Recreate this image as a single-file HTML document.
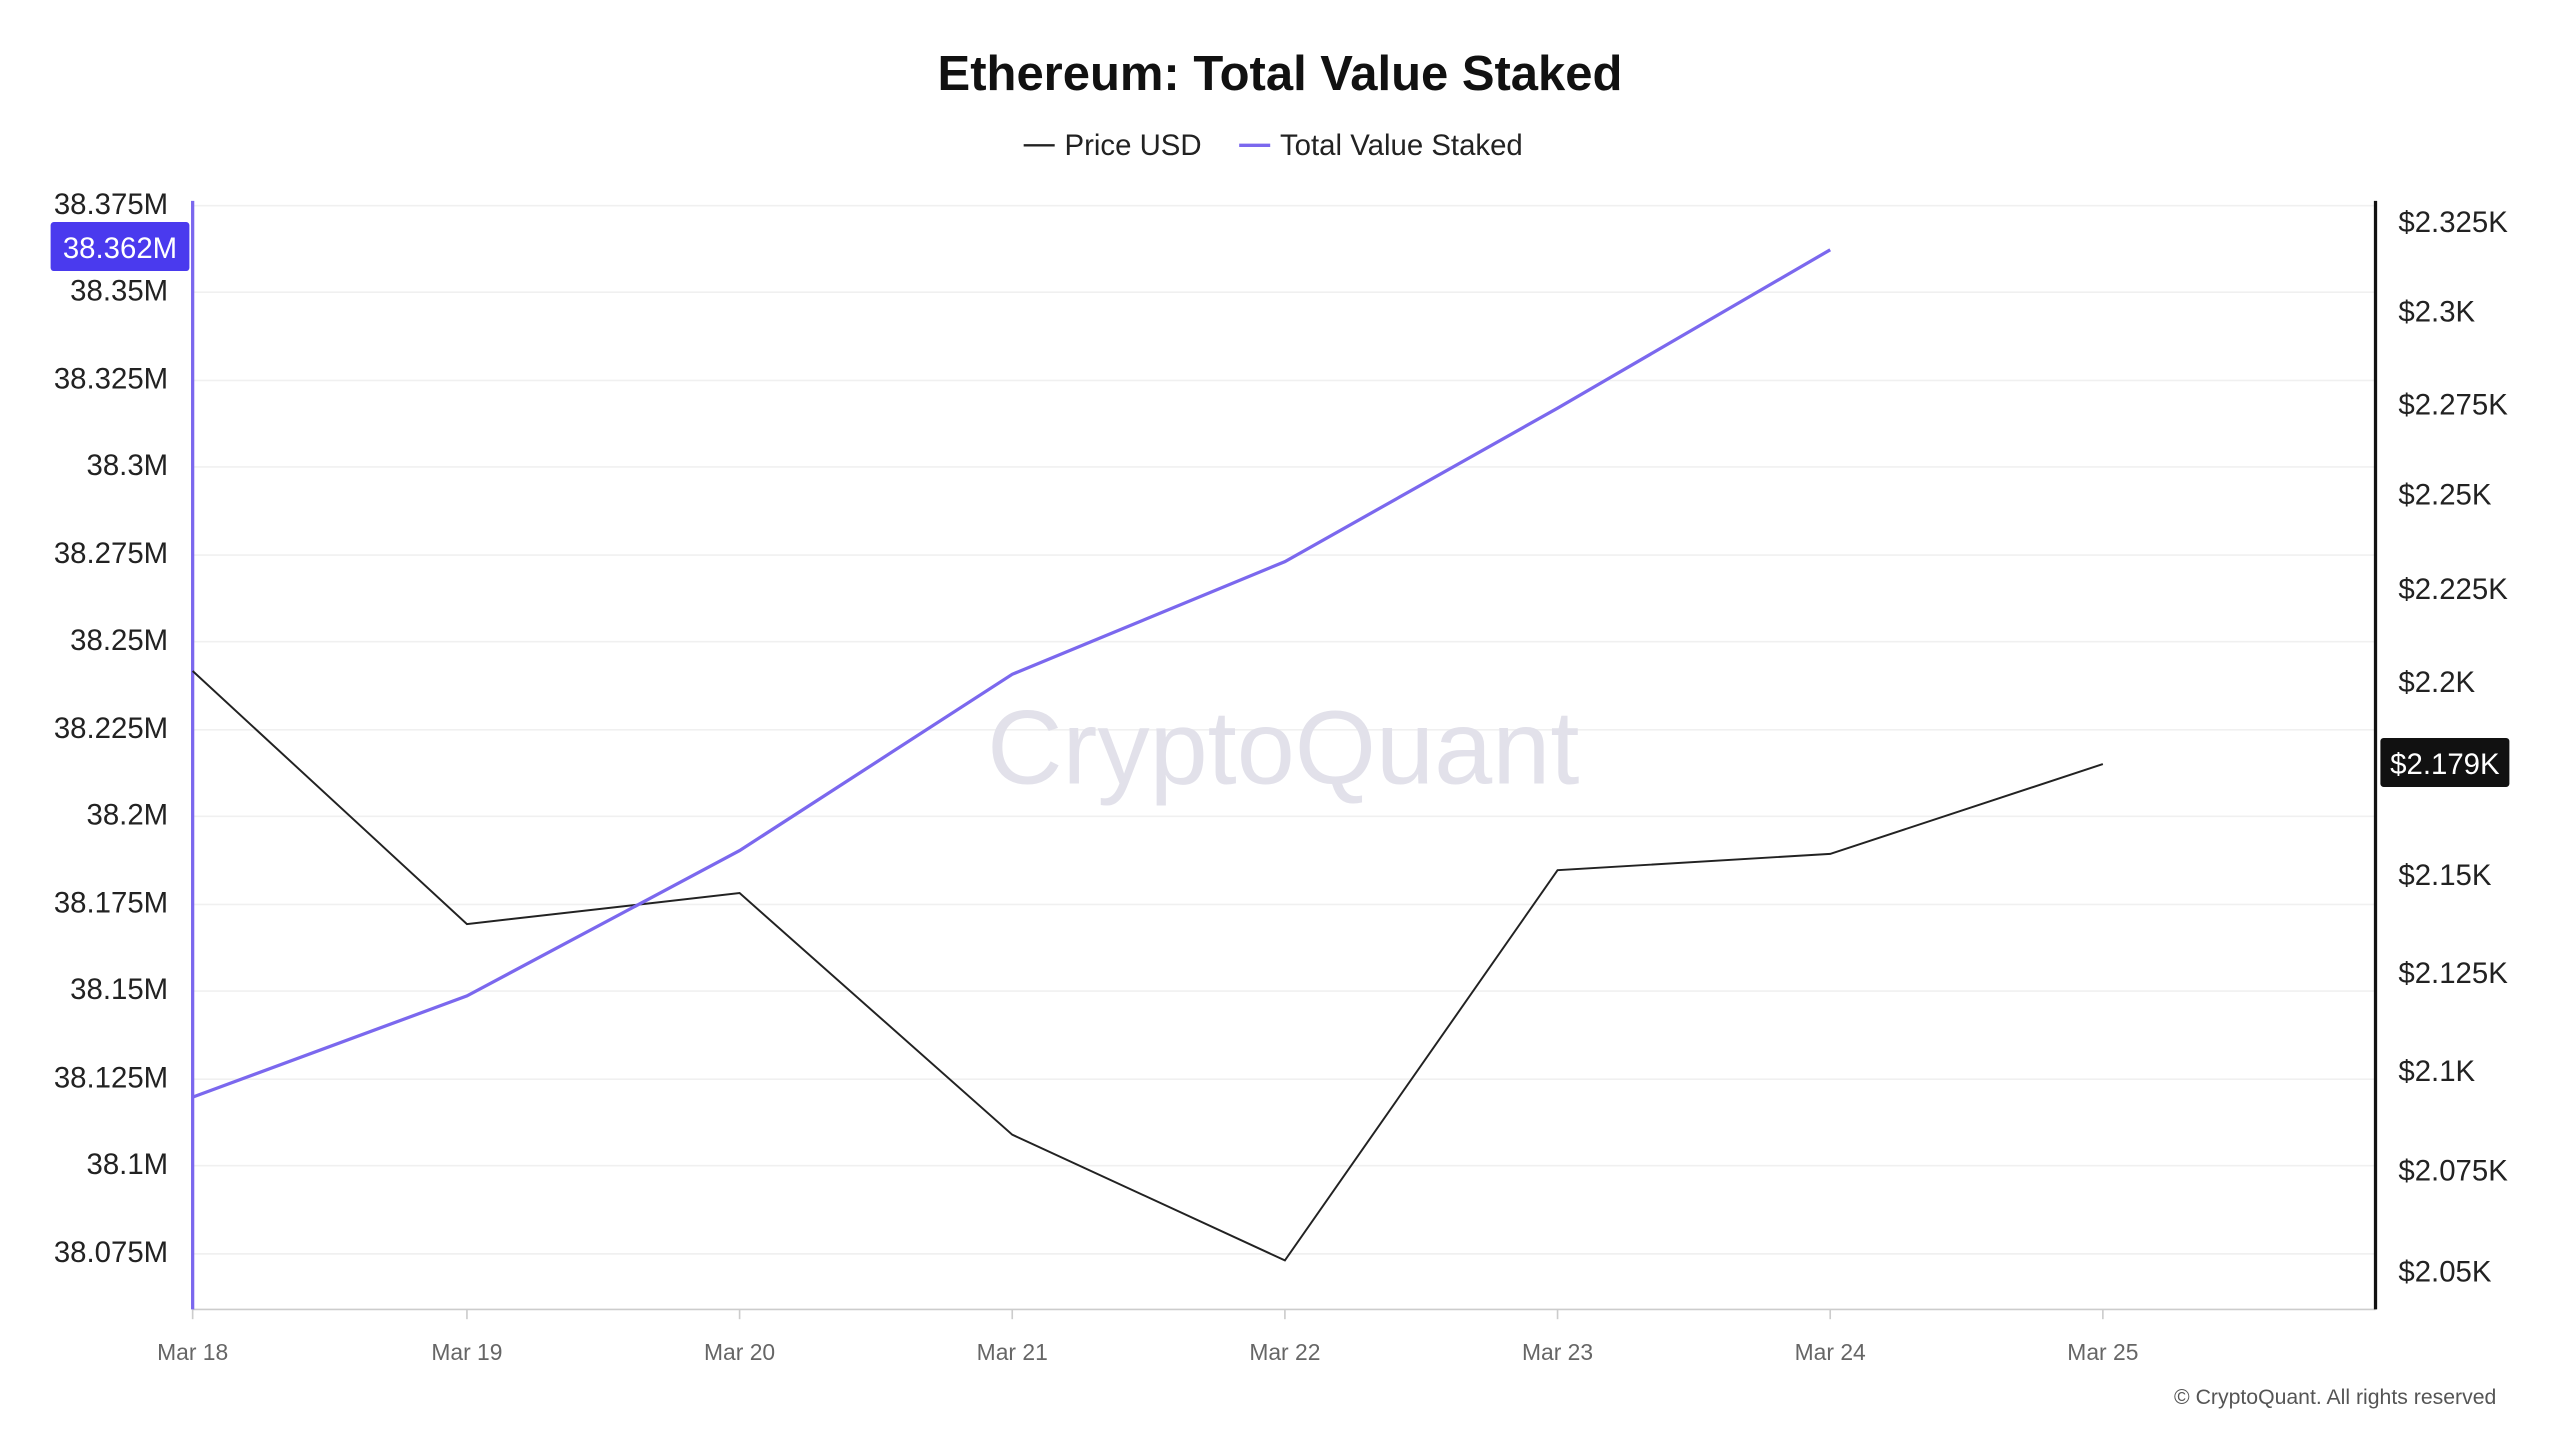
<!DOCTYPE html>
<html><head><meta charset="utf-8"><style>
html,body{margin:0;padding:0;background:#fff;}
svg{display:block;}
text{font-family:"Liberation Sans",sans-serif;}
</style></head><body>
<svg width="2560" height="1440" viewBox="0 0 1568 882" xmlns="http://www.w3.org/2000/svg">
<rect width="1568" height="882" fill="#fff"/>
<text x="784" y="55" text-anchor="middle" font-size="30" font-weight="bold" fill="#111">Ethereum: Total Value Staked</text>
<line x1="627" y1="89" x2="646" y2="89" stroke="#222" stroke-width="1.5"/>
<text x="652" y="95" font-size="18" fill="#222">Price USD</text>
<line x1="759" y1="89" x2="778" y2="89" stroke="#7b68ee" stroke-width="2"/>
<text x="784" y="95" font-size="18" fill="#222">Total Value Staked</text>
<g stroke="#f0f0f0" stroke-width="1">
<line x1="118" y1="126" x2="1455" y2="126"/><line x1="118" y1="179" x2="1455" y2="179"/><line x1="118" y1="233" x2="1455" y2="233"/><line x1="118" y1="286" x2="1455" y2="286"/><line x1="118" y1="340" x2="1455" y2="340"/><line x1="118" y1="393" x2="1455" y2="393"/><line x1="118" y1="447" x2="1455" y2="447"/><line x1="118" y1="500" x2="1455" y2="500"/><line x1="118" y1="554" x2="1455" y2="554"/><line x1="118" y1="607" x2="1455" y2="607"/><line x1="118" y1="661" x2="1455" y2="661"/><line x1="118" y1="714" x2="1455" y2="714"/><line x1="118" y1="768" x2="1455" y2="768"/>
</g>
<g font-size="18" fill="#222" text-anchor="end">
<text x="103" y="131">38.375M</text><text x="103" y="184">38.35M</text><text x="103" y="238">38.325M</text><text x="103" y="291">38.3M</text><text x="103" y="345">38.275M</text><text x="103" y="398">38.25M</text><text x="103" y="452">38.225M</text><text x="103" y="505">38.2M</text><text x="103" y="559">38.175M</text><text x="103" y="612">38.15M</text><text x="103" y="666">38.125M</text><text x="103" y="719">38.1M</text><text x="103" y="773">38.075M</text>
</g>
<g font-size="18" fill="#222">
<text x="1469" y="142">$2.325K</text><text x="1469" y="197">$2.3K</text><text x="1469" y="254">$2.275K</text><text x="1469" y="309">$2.25K</text><text x="1469" y="367">$2.225K</text><text x="1469" y="424">$2.2K</text><text x="1469" y="542">$2.15K</text><text x="1469" y="602">$2.125K</text><text x="1469" y="662">$2.1K</text><text x="1469" y="723">$2.075K</text><text x="1469" y="785">$2.05K</text>
</g>
<line x1="118" y1="802" x2="1455" y2="802" stroke="#ccc" stroke-width="1"/>
<g stroke="#ccc"><line x1="118" y1="802" x2="118" y2="808"/><line x1="286" y1="802" x2="286" y2="808"/><line x1="453" y1="802" x2="453" y2="808"/><line x1="620" y1="802" x2="620" y2="808"/><line x1="787" y1="802" x2="787" y2="808"/><line x1="954" y1="802" x2="954" y2="808"/><line x1="1121" y1="802" x2="1121" y2="808"/><line x1="1288" y1="802" x2="1288" y2="808"/></g>
<g font-size="14" fill="#666" text-anchor="middle">
<text x="118" y="833">Mar 18</text><text x="286" y="833">Mar 19</text><text x="453" y="833">Mar 20</text><text x="620" y="833">Mar 21</text><text x="787" y="833">Mar 22</text><text x="954" y="833">Mar 23</text><text x="1121" y="833">Mar 24</text><text x="1288" y="833">Mar 25</text>
</g>
<line x1="118" y1="123" x2="118" y2="802" stroke="#7b68ee" stroke-width="2"/>
<line x1="1455" y1="123" x2="1455" y2="802" stroke="#111" stroke-width="2"/>
<text x="786" y="480" text-anchor="middle" font-size="64" fill="#e2e1ea">CryptoQuant</text>
<polyline fill="none" stroke="#222" stroke-width="1.2" points="118,411 286,566 453,547 620,695 787,772 954,533 1121,523 1288,468"/>
<polyline fill="none" stroke="#7b68ee" stroke-width="2" points="118,672 286,610 453,521 620,413 787,344 954,250 1121,153"/>
<rect x="31" y="136" width="85" height="30" rx="2" fill="#4a3aee"/>
<text x="73.5" y="158" text-anchor="middle" font-size="18" fill="#fff">38.362M</text>
<rect x="1458" y="452" width="79" height="30" rx="2" fill="#111"/>
<text x="1497.5" y="474" text-anchor="middle" font-size="18" fill="#fff">$2.179K</text>
<text x="1529" y="860" text-anchor="end" font-size="13" fill="#555">© CryptoQuant. All rights reserved</text>
</svg>
</body></html>
